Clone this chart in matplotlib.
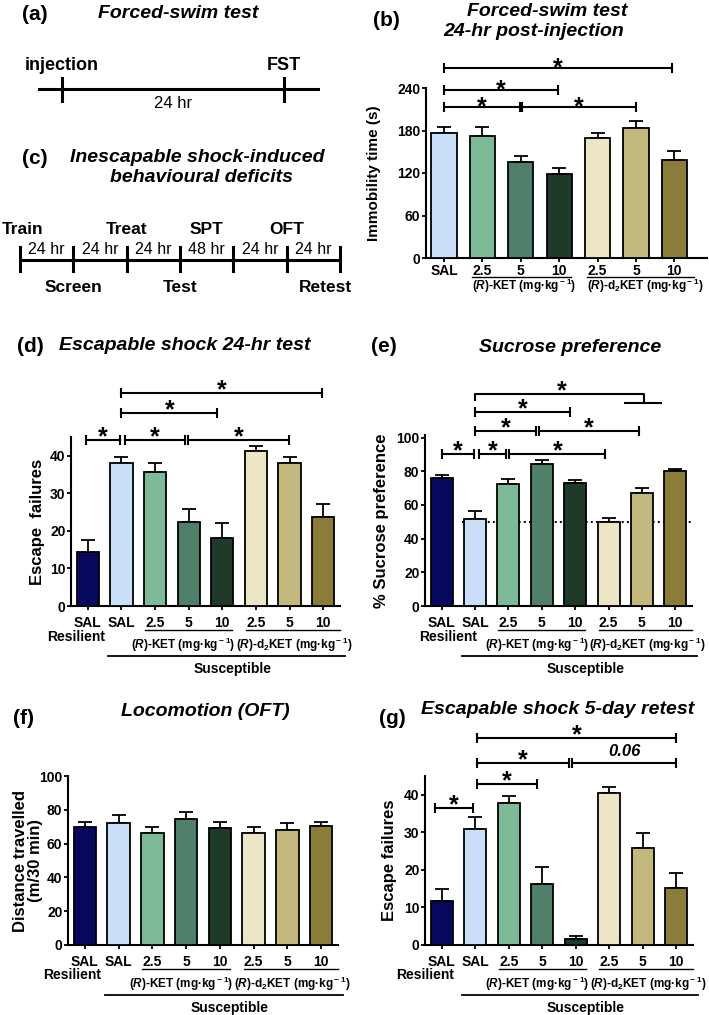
import numpy as np
import matplotlib
matplotlib.use("Agg")
import matplotlib.pyplot as plt
from matplotlib.transforms import offset_copy

plt.rcParams['font.family'] = ['Liberation Sans', 'DejaVu Sans']
plt.rcParams['mathtext.fontset'] = 'custom'
plt.rcParams['mathtext.rm'] = 'Liberation Sans:bold'
plt.rcParams['mathtext.it'] = 'Liberation Sans:bold:italic'
plt.rcParams['mathtext.bf'] = 'Liberation Sans:bold'

W, H = 709, 1015

# ---- data ----
fst_labels = ['SAL', '2.5', '5', '10', '2.5', '5', '10']
fst_mean = [177, 172, 136, 118, 170, 183, 139]
fst_sem = [8, 13, 8, 9, 7, 10, 12]
fst_colors = ['#c9dff7', '#7fba98', '#4f7f68', '#203a2a', '#ede6c6', '#c3b87e', '#8b7c3a']

grp_labels = ['SAL', 'SAL', '2.5', '5', '10', '2.5', '5', '10']
grp_colors = ['#07075e'] + fst_colors

esc24_mean = [14.3, 38.0, 35.7, 22.4, 18.0, 41.3, 38.2, 23.7]
esc24_sem = [3.4, 1.8, 2.4, 3.5, 4.2, 1.4, 1.6, 3.5]

spt_mean = [75.7, 51.7, 72.3, 84.2, 73.1, 49.7, 67.2, 80.0]
spt_sem = [2.3, 4.4, 2.8, 2.4, 1.8, 2.8, 3.1, 1.6]

oft_mean = [69.6, 72.0, 66.0, 74.8, 69.5, 66.1, 68.2, 70.4]
oft_sem = [3.0, 5.2, 3.7, 4.0, 3.3, 3.5, 3.8, 2.6]

retest_mean = [11.8, 31.0, 37.7, 16.3, 1.7, 40.5, 25.9, 15.2]
retest_sem = [3.1, 3.2, 2.0, 4.5, 0.7, 1.7, 4.0, 3.9]

# significance brackets: (from, to, height, label)
fst_brackets = [(0, 5.95, 268, '*'), (0, 2.98, 237, '*'),
                (0, 1.97, 213, '*'), (2.04, 4.99, 213, '*')]
esc24_brackets = [(1, 6.95, 56.6, '*'), (1, 3.85, 51.4, '*'),
                  (-0.05, 0.96, 44.1, '*'), (1.1, 2.9, 44.1, '*'), (2.97, 5.98, 44.1, '*')]
spt_brackets = [(1, 3.85, 115.3, '*'), (1, 2.83, 104, '*'), (2.91, 5.9, 104, '*'),
                (0, 0.96, 90, '*'), (1.12, 1.93, 90, '*'), (2.03, 4.9, 90, '*')]
retest_brackets = [(1.05, 7.0, 55.1, '*'), (1.05, 3.8, 48.4, '*'), (3.9, 7.0, 48.4, '0.06'),
                   (1.05, 2.85, 43, '*'), (-0.2, 0.93, 36.5, '*')]

ket_label = r'($\it{R}$)-KET (mg·kg$^{\rm -1}$)'
d2_label = r'($\it{R}$)-d$_{\rm 2}$KET (mg·kg$^{\rm -1}$)'

fig = plt.figure(figsize=(W / 100, H / 100), dpi=100)


def add_ax(left, top, right, bottom):
    return fig.add_axes([left / W, 1 - bottom / H, (right - left) / W, (bottom - top) / H])


def ftext(x, y, s, **kw):
    fig.text(x / W, 1 - y / H, s, ha=kw.pop('ha', 'center'), va=kw.pop('va', 'center'), **kw)


def below(ax, dy):
    return offset_copy(ax.get_xaxis_transform(), fig=fig, x=0, y=-dy, units='dots')


def bar_panel(ax, labels, means, sems, colors, ylim, yticks, xlim, pad):
    x = np.arange(len(means))
    ax.bar(x, means, width=0.66, color=colors, edgecolor='black', linewidth=1.3, zorder=3)
    ax.errorbar(x, means, yerr=[np.zeros(len(sems)), sems], fmt='none', ecolor='black',
                elinewidth=1.3, capsize=5, capthick=1.3, zorder=2)
    ax.set_xlim(*xlim)
    ax.set_ylim(*ylim)
    ax.set_yticks(yticks)
    ax.set_xticks(x)
    ax.set_xticklabels(labels, fontweight='bold', fontsize=10)
    for lab in ax.get_yticklabels():
        lab.set_fontweight('bold')
        lab.set_fontsize(10)
    for s in ['top', 'right']:
        ax.spines[s].set_visible(False)
    for s in ['left', 'bottom']:
        ax.spines[s].set_linewidth(1.5)
    ax.tick_params(axis='both', direction='out', length=3, width=1.3, pad=1)
    ax.tick_params(axis='x', pad=pad)


def star(ax, x, y, drop=-3.1):
    ax.annotate('*', (x, y), xytext=(0, drop), textcoords='offset points',
                ha='center', va='baseline', fontsize=18, fontweight='bold',
                annotation_clip=False)


def brackets(ax, items, drop=-3.1):
    for x0, x1, y, lab in items:
        ax.plot([x0, x1], [y, y], color='black', lw=1.5, marker='|', markersize=7,
                markeredgewidth=1.5, clip_on=False, zorder=5)
        if lab == '*':
            star(ax, (x0 + x1) / 2, y, drop)
        else:
            ax.annotate(lab, ((x0 + x1) / 2, y), xytext=(0, 3), textcoords='offset points',
                        ha='center', va='bottom', fontsize=12, fontweight='bold',
                        style='italic', annotation_clip=False)


def group_labels(ax, resilient_x, res_dy):
    ax.plot([1.7, 4.3], [0, 0], color='black', lw=1, transform=below(ax, 24), clip_on=False)
    ax.plot([4.7, 7.5], [0, 0], color='black', lw=1, transform=below(ax, 24), clip_on=False)
    ax.text(2.85, 0, ket_label, transform=below(ax, 39), ha='center', va='center',
            fontsize=8.5, fontweight='bold')
    ax.text(6.15, 0, d2_label, transform=below(ax, 39), ha='center', va='center',
            fontsize=8.5, fontweight='bold')
    ax.text(resilient_x, 0, 'Resilient', transform=below(ax, res_dy), ha='center', va='center',
            fontsize=10, fontweight='bold')
    ax.plot([0.6, 7.65], [0, 0], color='black', lw=1.3, transform=below(ax, 50), clip_on=False)
    ax.text(4.3, 0, 'Susceptible', transform=below(ax, 63), ha='center', va='center',
            fontsize=10, fontweight='bold')


# ---- (a) and (c) timelines ----
tl = add_ax(0, 0, 354, 310)
tl.set_xlim(0, 354)
tl.set_ylim(310, 0)
tl.axis('off')

a_events = ['injection', 'FST']
a_interval = '24 hr'
a_x = np.linspace(62, 284, len(a_events))
tl.plot([39, 318], [89, 89], color='black', lw=2.2)
for xi, ev in zip(a_x, a_events):
    tl.plot([xi, xi], [78, 101], color='black', lw=2.2)
    tl.text(xi, 66, ev, ha='center', va='center', fontsize=13, fontweight='bold')
tl.text(a_x.mean(), 104, a_interval, ha='center', va='center', fontsize=12)

c_events = ['Train', 'Screen', 'Treat', 'Test', 'OFT', 'Retest']
c_event_pos = [0, 1, 2, 3, 5, 6]
c_intervals = ['24 hr', '24 hr', '24 hr', '48 hr', '24 hr', '24 hr']
c_x = np.linspace(20, 340, len(c_intervals) + 1)
tl.plot([c_x[0], c_x[-1]], [260, 260], color='black', lw=2.2)
for xi in c_x:
    tl.plot([xi, xi], [247, 271], color='black', lw=2.2)
for i, iv in enumerate(c_intervals):
    tl.text((c_x[i] + c_x[i + 1]) / 2, 249, iv, ha='center', va='center', fontsize=11.5)
for ev, p in zip(c_events, c_event_pos):
    up = p in (0, 2, 5)
    xx = c_x[p] + (3 if p == 0 else 0) - (14 if p == 6 else 0)
    tl.text(xx, 229 if up else 287, ev, ha='center', va='center', fontsize=12.5, fontweight='bold')
tl.text((c_x[3] + c_x[4]) / 2, 229, 'SPT', ha='center', va='center', fontsize=12.5, fontweight='bold')

ftext(35, 15, '(a)', fontsize=15, fontweight='bold')
ftext(178, 14, 'Forced-swim test', fontsize=14, fontweight='bold', style='italic')
ftext(35, 158, '(c)', fontsize=15, fontweight='bold')
ftext(197, 157, 'Inescapable shock-induced', fontsize=14, fontweight='bold', style='italic')
ftext(202, 178, 'behavioural deficits', fontsize=14, fontweight='bold', style='italic')

# ---- (b) ----
axb = add_ax(426, 88, 707, 258)
bar_panel(axb, fst_labels, fst_mean, fst_sem, fst_colors, (0, 240), [0, 60, 120, 180, 240],
          (-0.47, 6.85), 1)
brackets(axb, fst_brackets, drop=-5.3)
axb.plot([0.73, 3.3], [0, 0], color='black', lw=1, transform=below(axb, 19), clip_on=False)
axb.plot([3.72, 6.5], [0, 0], color='black', lw=1, transform=below(axb, 19), clip_on=False)
axb.text(2.08, 0, ket_label, transform=below(axb, 28), ha='center', va='center',
         fontsize=8.5, fontweight='bold')
axb.text(5.24, 0, d2_label, transform=below(axb, 28), ha='center', va='center',
         fontsize=8.5, fontweight='bold')
axb.set_ylabel('Immobility time (s)', fontsize=11, fontweight='bold')
axb.yaxis.set_label_coords((381 - 426) / 281, 0.5)
ftext(386, 20, '(b)', fontsize=15, fontweight='bold')
ftext(547, 12, 'Forced-swim test', fontsize=14, fontweight='bold', style='italic')
ftext(534, 32, '24-hr post-injection', fontsize=14, fontweight='bold', style='italic')

# ---- (d) ----
axd = add_ax(71, 437, 340, 606)
bar_panel(axd, grp_labels, esc24_mean, esc24_sem, grp_colors, (0, 45), [0, 10, 20, 30, 40],
          (-0.5, 7.5), 4.5)
brackets(axd, esc24_brackets)
group_labels(axd, -0.35, 31)
axd.set_ylabel('Escape  failures', fontsize=12, fontweight='bold')
axd.yaxis.set_label_coords((45 - 71) / 269, 0.5)
ftext(30, 346, '(d)', fontsize=15, fontweight='bold')
ftext(185, 346, 'Escapable shock 24-hr test', fontsize=14, fontweight='bold', style='italic')

# ---- (e) ----
axe = add_ax(425, 435, 692, 606)
bar_panel(axe, grp_labels, spt_mean, spt_sem, grp_colors, (0, 101.5), [0, 20, 40, 60, 80, 100],
          (-0.5, 7.5), 4.5)
axe.hlines(50, 0.6, 7.5, colors='black', linestyles=':', lw=1.4, zorder=1)
brackets(axe, spt_brackets)
axe.plot([1, 1, 6.06, 6.06], [122.5, 125.8, 125.8, 120.2], color='black', lw=1.5,
         clip_on=False, zorder=5)
axe.plot([5.5, 6.58], [120.2, 120.2], color='black', lw=1.5, clip_on=False, zorder=5)
star(axe, 3.6, 125.8)
group_labels(axe, 0.2, 31)
axe.set_ylabel('% Sucrose preference', fontsize=12, fontweight='bold')
axe.yaxis.set_label_coords((389 - 425) / 267, 0.5)
ftext(384, 347, '(e)', fontsize=15, fontweight='bold')
ftext(570, 347, 'Sucrose preference', fontsize=14, fontweight='bold', style='italic')

# ---- (f) ----
axf = add_ax(68, 776, 338, 945)
bar_panel(axf, grp_labels, oft_mean, oft_sem, grp_colors, (0, 100), [0, 20, 40, 60, 80, 100],
          (-0.5, 7.5), 4.5)
group_labels(axf, -0.37, 30)
axf.set_ylabel('Distance travelled\n(m/30 min)', fontsize=12, fontweight='bold', linespacing=1.0)
axf.yaxis.set_label_coords((43 - 68) / 270, 0.5)
ftext(23, 719, '(f)', fontsize=15, fontweight='bold')
ftext(205, 712, 'Locomotion (OFT)', fontsize=14, fontweight='bold', style='italic')

# ---- (g) ----
axg = add_ax(425, 776, 693, 945)
bar_panel(axg, grp_labels, retest_mean, retest_sem, grp_colors, (0, 45), [0, 10, 20, 30, 40],
          (-0.5, 7.5), 4.5)
brackets(axg, retest_brackets)
group_labels(axg, -0.5, 30)
axg.set_ylabel('Escape failures', fontsize=12, fontweight='bold')
axg.yaxis.set_label_coords((397 - 425) / 268, 0.5)
ftext(392, 718, '(g)', fontsize=15, fontweight='bold')
ftext(558, 709, 'Escapable shock 5-day retest', fontsize=14, fontweight='bold', style='italic')

fig.savefig('out.png', dpi=100)
